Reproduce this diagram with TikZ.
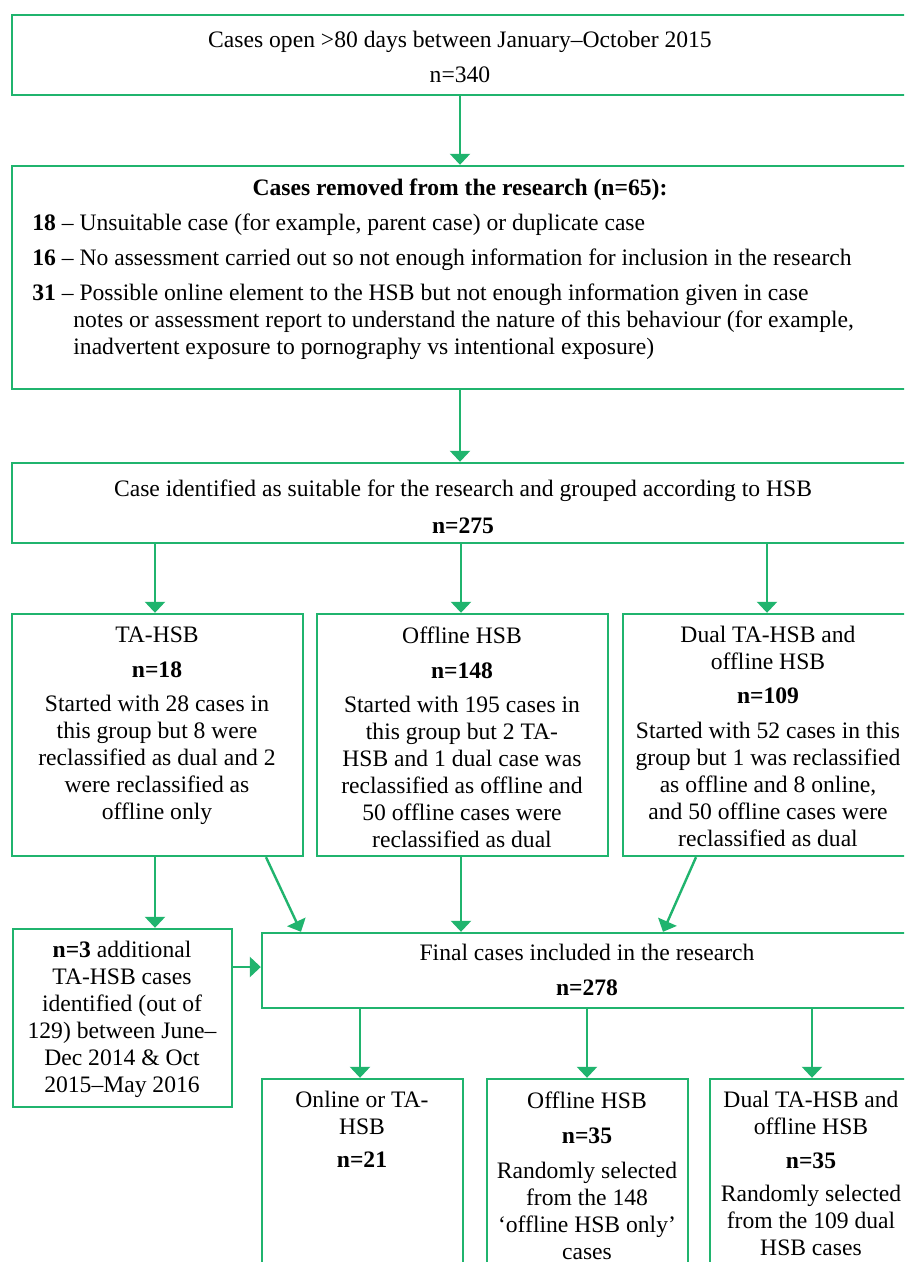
\documentclass[tikz,border=0pt]{standalone}
\usepackage{fontspec}
\setmainfont{Liberation Serif}
\usetikzlibrary{arrows.meta,fit}
\definecolor{flowgreen}{RGB}{32,180,110}
\begin{document}
\begin{tikzpicture}[x=0.5pt,y=-0.5pt,
  box/.style={draw=flowgreen, line width=1.2pt, inner sep=0pt},
  arr/.style={draw=flowgreen, line width=1.2pt, -{Triangle[width=10pt,length=5.5pt]}},
  txt/.style={inner sep=0pt, align=center, anchor=north, font=\fontsize{11.8}{13.5}\selectfont},
  ltxt/.style={txt, align=left, anchor=north west}]
\useasboundingbox (0,0) rectangle (904,1262);
\fill[white] (0,0) rectangle (904,1262);
\clip (0,0) rectangle (904,1262);

% boxes
\node[box, fit={(12,15) (912,95)}] (b1) {};
\node[box, fit={(12,166) (912,389)}] (b2) {};
\node[box, fit={(12,463) (912,543)}] (b3) {};
\node[box, fit={(12,614) (303,856)}] (g1) {};
\node[box, fit={(317,614) (608,856)}] (g2) {};
\node[box, fit={(623,614) (913,856)}] (g3) {};
\node[box, fit={(13,929) (232,1107)}] (ex) {};
\node[box, fit={(262,933) (912,1008)}] (fin) {};
\node[box, fit={(262,1079) (463,1300)}] (o1) {};
\node[box, fit={(487,1079) (688,1300)}] (o2) {};
\node[box, fit={(710,1079) (912,1300)}] (o3) {};

% texts
\node[txt] (t1) at (460,31) {Cases open >80 days between January–October 2015\\[4pt] n=340};
\node[txt, font=\fontsize{11.8}{13.5}\selectfont\bfseries] (t2h) at (460,178) {Cases removed from the research (n=65):};
\node[ltxt] (t2) at (32,213) {\textbf{18} – Unsuitable case (for example, parent case) or duplicate case\\[4pt]
\textbf{16} – No assessment carried out so not enough information for inclusion in the research\\[4pt]
\textbf{31} – Possible online element to the HSB but not enough information given in case\\
\hspace*{20.5pt}notes or assessment report to understand the nature of this behaviour (for example,\\
\hspace*{20.5pt}inadvertent exposure to pornography vs intentional exposure)};
\node[txt] (t3) at (463,479) {Case identified as suitable for the research and grouped according to HSB\\[5pt]\textbf{n=275}};
\node[txt] (tg1) at (157,626) {TA-HSB\\[4pt]\textbf{n=18}\\[3.5pt]Started with 28 cases in\\this group but 8 were\\reclassified as dual and 2\\were reclassified as\\offline only};
\node[txt] (tg2) at (462,626) {Offline HSB\\[4pt]\textbf{n=148}\\[3.5pt]Started with 195 cases in\\this group but 2 TA-\\HSB and 1 dual case was\\reclassified as offline and\\50 offline cases were\\reclassified as dual};
\node[txt] (tg3) at (768,626) {Dual TA-HSB and\\offline HSB\\[3.5pt]\textbf{n=109}\\[4pt]Started with 52 cases in this\\group but 1 was reclassified\\as offline and 8 online,\\and 50 offline cases were\\reclassified as dual};
\node[txt] (tex) at (122,941) {\textbf{n=3} additional\\TA-HSB cases\\identified (out of\\129) between June–\\Dec 2014 \& Oct\\2015–May 2016};
\node[txt] (tfin) at (587,944) {Final cases included in the research\\[4pt]\textbf{n=278}};
\node[txt] (to1) at (362,1091) {Online or TA-\\HSB\\[3pt]\textbf{n=21}};
\node[txt] (to2) at (587,1091) {Offline HSB\\[4pt]\textbf{n=35}\\[4pt]Randomly selected\\from the 148\\‘offline HSB only’\\cases};
\node[txt] (to3) at (811,1091) {Dual TA-HSB and\\offline HSB\\[3.5pt]\textbf{n=35}\\[3pt]Randomly selected\\from the 109 dual\\HSB cases};

% connector columns
\coordinate (cmid) at (460,0);
\coordinate (cl) at (155,0);
\coordinate (cm) at (461,0);
\coordinate (cr) at (767,0);
\coordinate (dA) at (266,0);
\coordinate (dB) at (301,0);
\coordinate (dC) at (696,0);
\coordinate (dD) at (663,0);
\coordinate (hrow) at (0,967);
\coordinate (f1) at (360,0);
\coordinate (f2) at (587,0);
\coordinate (f3) at (812,0);

% connectors
\draw[arr] (b1.south -| cmid) -- (b2.north -| cmid);
\draw[arr] (b2.south -| cmid) -- (b3.north -| cmid);
\draw[arr] (b3.south -| cl) -- (g1.north -| cl);
\draw[arr] (b3.south -| cm) -- (g2.north -| cm);
\draw[arr] (b3.south -| cr) -- (g3.north -| cr);
\draw[arr] (g1.south -| cl) -- (ex.north -| cl);
\draw[arr] (g1.south -| dA) -- (fin.north -| dB);
\draw[arr] (g2.south -| cm) -- (fin.north -| cm);
\draw[arr] (g3.south -| dC) -- (fin.north -| dD);
\draw[arr] (ex.east |- hrow) -- (fin.west |- hrow);
\draw[arr] (fin.south -| f1) -- (o1.north -| f1);
\draw[arr] (fin.south -| f2) -- (o2.north -| f2);
\draw[arr] (fin.south -| f3) -- (o3.north -| f3);
\end{tikzpicture}
\end{document}
